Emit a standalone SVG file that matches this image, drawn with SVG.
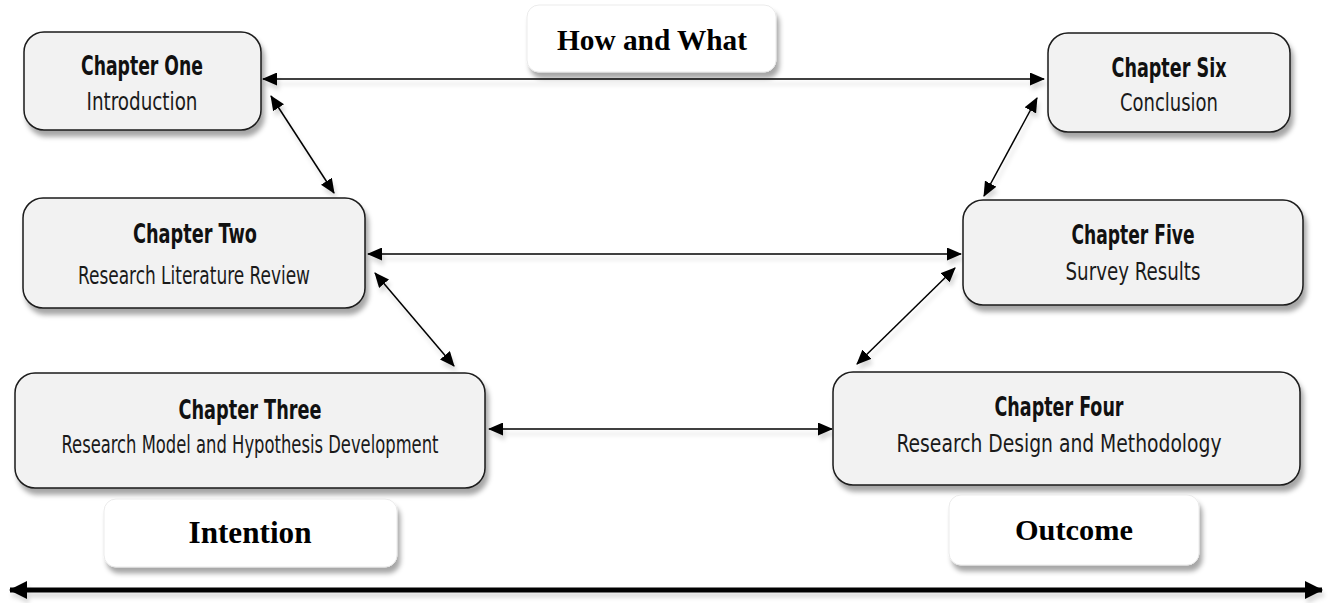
<svg xmlns="http://www.w3.org/2000/svg" width="1332" height="603" viewBox="0 0 1332 603">
<defs>
<filter id="sh" x="-10%" y="-20%" width="125%" height="150%">
<feDropShadow dx="3" dy="6" stdDeviation="2.5" flood-color="#000" flood-opacity="0.35"/>
</filter>
<filter id="lsh" filterUnits="userSpaceOnUse" x="0" y="0" width="1332" height="603">
<feDropShadow dx="2" dy="5" stdDeviation="2" flood-color="#000" flood-opacity="0.15"/>
</filter>
<marker id="ah" viewBox="0 0 15 13" refX="14" refY="6.5" markerWidth="15" markerHeight="13" markerUnits="userSpaceOnUse" orient="auto-start-reverse">
<path d="M0,0 L15,6.5 L0,13 Z" fill="#000"/>
</marker>
<marker id="ahb" viewBox="0 0 18 18" refX="17" refY="9" markerWidth="18" markerHeight="18" markerUnits="userSpaceOnUse" orient="auto-start-reverse">
<path d="M0,0 L18,9 L0,18 Z" fill="#000"/>
</marker>
</defs>
<style>
.box{fill:#f2f2f2;stroke:#1a1a1a;stroke-width:1.5;filter:url(#sh)}
.lbl{fill:#fff;stroke:#e6e6e6;stroke-width:0.8;filter:url(#sh)}
.t{font-family:"Liberation Sans Narrow","DejaVu Sans Condensed","Liberation Sans",sans-serif;font-weight:bold;font-size:26px;fill:#111;text-anchor:middle}
.s{font-family:"Liberation Sans Narrow","DejaVu Sans Condensed","Liberation Sans",sans-serif;font-size:24px;fill:#1a1a1a;text-anchor:middle}
.lt{font-family:"Liberation Serif","Times New Roman",serif;font-weight:bold;fill:#000;text-anchor:middle}
.c{stroke:#000;stroke-width:1.5;fill:none;marker-start:url(#ah);marker-end:url(#ah)}
.cb{stroke:#000;stroke-width:5;fill:none;marker-start:url(#ahb);marker-end:url(#ahb)}
</style>
<rect width="1332" height="603" fill="#fff"/>

<g id="connectors" filter="url(#lsh)">
<line class="c" x1="263" y1="79" x2="1044" y2="79"/>
<line class="c" x1="271" y1="96" x2="334" y2="193"/>
<line class="c" x1="1037" y1="98" x2="984" y2="196"/>
<line class="c" x1="368" y1="254" x2="961" y2="254"/>
<line class="c" x1="375" y1="273" x2="454" y2="366"/>
<line class="c" x1="955" y1="268" x2="857" y2="364"/>
<line class="c" x1="489" y1="429" x2="832" y2="429"/>
<line class="cb" x1="10" y1="590" x2="1322" y2="590"/>
</g>

<g id="how-and-what">
<rect class="lbl" x="527" y="5" width="249" height="67" rx="12"/>
<text class="lt" x="652" y="50" font-size="29" textLength="190" lengthAdjust="spacingAndGlyphs">How and What</text>
</g>

<g id="chapter-one">
<rect class="box" x="24" y="32" width="237" height="98" rx="20"/>
<text class="t" x="142" y="75" textLength="122" lengthAdjust="spacingAndGlyphs">Chapter One</text>
<text class="s" x="142" y="110" textLength="111" lengthAdjust="spacingAndGlyphs">Introduction</text>
</g>

<g id="chapter-six">
<rect class="box" x="1048" y="33" width="242" height="99" rx="20"/>
<text class="t" x="1169" y="77" textLength="115" lengthAdjust="spacingAndGlyphs">Chapter Six</text>
<text class="s" x="1169" y="111" textLength="98" lengthAdjust="spacingAndGlyphs">Conclusion</text>
</g>

<g id="chapter-two">
<rect class="box" x="23" y="198" width="342" height="110" rx="20"/>
<text class="t" x="195" y="243" textLength="124" lengthAdjust="spacingAndGlyphs">Chapter Two</text>
<text class="s" x="194" y="284" textLength="232" lengthAdjust="spacingAndGlyphs">Research Literature Review</text>
</g>

<g id="chapter-five">
<rect class="box" x="963" y="200" width="340" height="105" rx="20"/>
<text class="t" x="1133" y="244" textLength="123" lengthAdjust="spacingAndGlyphs">Chapter Five</text>
<text class="s" x="1133" y="280" textLength="135" lengthAdjust="spacingAndGlyphs">Survey Results</text>
</g>

<g id="chapter-three">
<rect class="box" x="15" y="373" width="470" height="115" rx="20"/>
<text class="t" x="250" y="419" textLength="143" lengthAdjust="spacingAndGlyphs">Chapter Three</text>
<text class="s" x="250" y="453" textLength="377" lengthAdjust="spacingAndGlyphs">Research Model and Hypothesis Development</text>
</g>

<g id="chapter-four">
<rect class="box" x="833" y="372" width="467" height="113" rx="20"/>
<text class="t" x="1059" y="416" textLength="129" lengthAdjust="spacingAndGlyphs">Chapter Four</text>
<text class="s" x="1059" y="452" textLength="325" lengthAdjust="spacingAndGlyphs">Research Design and Methodology</text>
</g>

<g id="intention">
<rect class="lbl" x="104" y="499" width="293" height="68" rx="12"/>
<text class="lt" x="250" y="543" font-size="31" textLength="123" lengthAdjust="spacingAndGlyphs">Intention</text>
</g>

<g id="outcome">
<rect class="lbl" x="949" y="495" width="250" height="70" rx="12"/>
<text class="lt" x="1074" y="540" font-size="30" textLength="118" lengthAdjust="spacingAndGlyphs">Outcome</text>
</g>
</svg>
